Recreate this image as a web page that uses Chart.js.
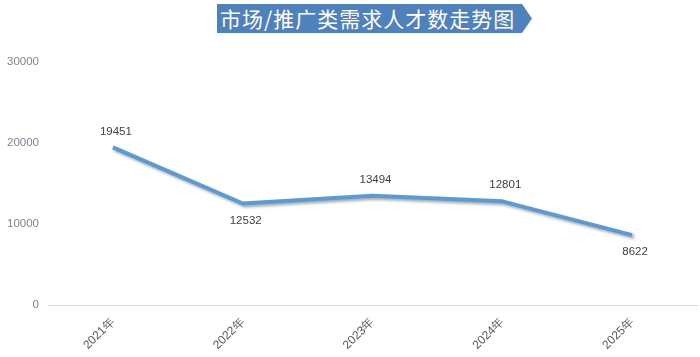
<!DOCTYPE html>
<html><head><meta charset="utf-8">
<script src="https://cdn.jsdelivr.net/npm/chart.js@4/dist/chart.umd.min.js"></script>
<style>
html,body{margin:0;padding:0;background:#fff;}
#wrap{position:relative;width:700px;height:357px;}
#banner{position:absolute;left:217px;top:4px;width:315px;height:29px;background:#4f81bd;
clip-path:polygon(0 0,305px 0,315px 50%,305px 100%,0 100%);color:#fff;
font-family:"Noto Sans CJK SC",sans-serif;font-size:21px;line-height:29px;padding-left:3px;box-sizing:border-box;letter-spacing:1px;white-space:nowrap;}
</style></head><body>
<div id="wrap"><canvas id="c" width="700" height="357"></canvas><div id="banner">市场/推广类需求人才数走势图</div></div>
<script>
const categories = ['2021年','2022年','2023年','2024年','2025年'];
const values = [19451, 12532, 13494, 12801, 8622];
const labelPos = ['above','below','above','above','below'];
const yTicks = [0, 10000, 20000, 30000];

const shadowPlugin = {
  id:'shadow',
  beforeDatasetDraw(chart){ const c=chart.ctx; c.save(); c.shadowColor='rgba(0,0,0,0.35)'; c.shadowBlur=3; c.shadowOffsetX=2; c.shadowOffsetY=2; },
  afterDatasetDraw(chart){ chart.ctx.restore(); }
};
const labelPlugin = {
  id:'vlabels',
  afterDatasetsDraw(chart){
    const c=chart.ctx; const meta=chart.getDatasetMeta(0);
    c.save(); c.font='11.5px "Liberation Sans", sans-serif'; c.fillStyle='#404040'; c.textAlign='center'; c.textBaseline='middle';
    meta.data.forEach((p,i)=>{
      const dy = labelPos[i]==='above' ? -16 : 17;
      c.fillText(String(values[i]), p.x+3, p.y+dy);
    });
    c.restore();
  }
};
new Chart(document.getElementById('c'),{
  type:'line',
  data:{labels:categories,datasets:[{data:values,borderColor:'#5b9bd5',borderWidth:4,pointRadius:0,tension:0,fill:false,borderJoinStyle:'round'}]},
  options:{
    responsive:false,animation:false,
    layout:{padding:{top:62,right:3,left:0,bottom:0}},
    plugins:{legend:{display:false},tooltip:{enabled:false}},
    scales:{
      x:{offset:true,grid:{display:false},border:{display:true,color:'#d9d9d9',width:1},
         ticks:{maxRotation:45,minRotation:45,color:'#595959',font:{family:'"Liberation Sans", sans-serif',size:12},padding:2},
         afterFit(s){s.height=52;}},
      y:{min:0,max:30000,grid:{display:false},border:{display:false},
         afterBuildTicks(s){s.ticks=yTicks.map(v=>({value:v}));},
         ticks:{color:'#7a8593',padding:1,font:{family:'"Liberation Sans", sans-serif',size:11.5},callback:(v)=>String(v)},
         afterFit(s){s.width=48;}}
    }
  },
  plugins:[shadowPlugin,labelPlugin]
});
</script></body></html>
